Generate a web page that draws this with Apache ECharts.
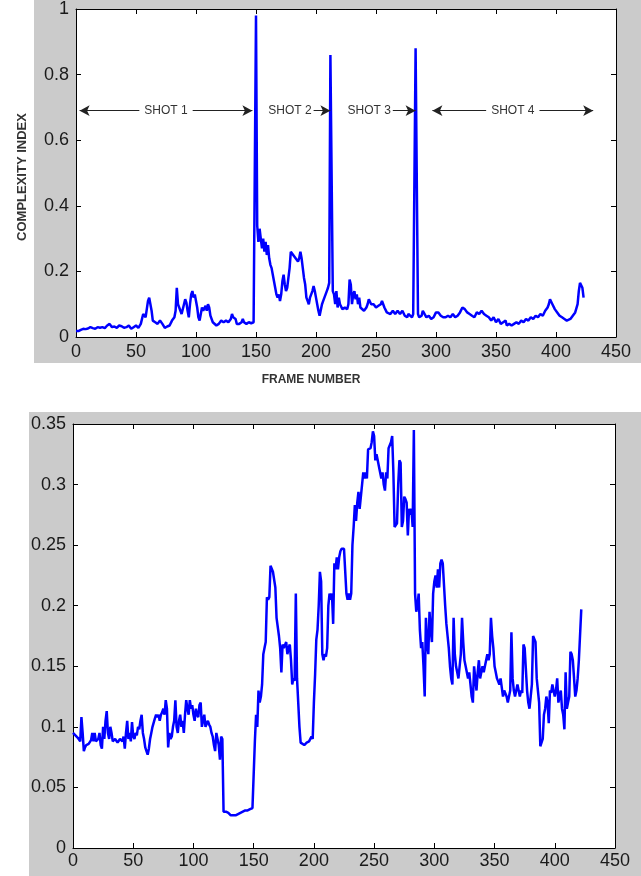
<!DOCTYPE html>
<html><head><meta charset="utf-8">
<script src="https://cdn.jsdelivr.net/npm/echarts@6/dist/echarts.min.js"></script>
<style>html,body{margin:0;padding:0;background:#fff}#c{width:641px;height:876px}</style>
</head><body><div id="c"></div>
<script>
// ---------- top chart: complexity index per frame ----------
const topFrames = [0,2,4,6,8,10,12,14,16,18,20,22,24,26,28,30,32,34,36,38,40,42,44,46,48,50,52,54,56,58,60,61,62,63,64,66,68,70,72,74,76,78,80,82,83,84,85,86,88,90,91,92,93,94,95,96,97,98,99,100,101,102,103,104,105,106,107,108,109,110,111,112,113,114,115,117,119,121,123,125,127,129,130,131,133,134,136,138,139,140,142,144,146,148,149,150,151,152,153,154,155,156,157,158,159,160,161,162,163,164,165,166,167,168,169,170,171,172,173,174,175,176,177,178,179,180,181,182,183,184,185,186,187,188,189,190,191,192,193,194,195,196,197,198,199,200,201,202,203,204,205,206,207,208,209,210,211,212,213,214,215,216,217,218,219,220,221,222,224,226,227,228,229,230,231,232,233,234,235,236,237,238,240,242,243,244,245,246,248,250,252,254,255,256,257,258,259,260,262,264,265,266,268,270,272,274,276,277,278,280,281,282,283,284,285,286,288,289,290,292,294,296,298,300,302,304,306,308,310,312,314,316,318,320,322,324,326,328,330,332,334,336,338,340,342,344,346,348,350,352,354,356,358,359,361,363,365,367,369,371,373,375,377,379,381,383,385,387,389,391,393,394,395,396,397,399,401,403,405,407,409,410,412,414,416,418,419,420,421,422,423];
const topValues = [0.018,0.018,0.022,0.025,0.024,0.026,0.03,0.027,0.025,0.03,0.028,0.03,0.027,0.035,0.04,0.03,0.032,0.028,0.035,0.033,0.028,0.03,0.035,0.025,0.03,0.035,0.028,0.04,0.07,0.06,0.11,0.12,0.115,0.08,0.05,0.045,0.04,0.05,0.04,0.028,0.032,0.035,0.05,0.06,0.08,0.15,0.1,0.09,0.07,0.1,0.115,0.105,0.08,0.06,0.1,0.13,0.14,0.12,0.13,0.11,0.09,0.06,0.05,0.07,0.09,0.08,0.075,0.095,0.08,0.1,0.09,0.065,0.06,0.045,0.04,0.035,0.04,0.05,0.045,0.05,0.045,0.055,0.07,0.06,0.055,0.04,0.04,0.045,0.055,0.045,0.04,0.045,0.042,0.045,0.04,0.98,0.34,0.29,0.33,0.3,0.27,0.3,0.26,0.29,0.25,0.28,0.24,0.22,0.21,0.19,0.17,0.15,0.13,0.12,0.13,0.11,0.13,0.17,0.19,0.16,0.14,0.15,0.18,0.21,0.26,0.26,0.25,0.25,0.24,0.24,0.23,0.24,0.26,0.24,0.21,0.18,0.16,0.12,0.11,0.1,0.12,0.13,0.14,0.155,0.14,0.12,0.1,0.08,0.065,0.07,0.1,0.11,0.12,0.13,0.14,0.15,0.165,0.86,0.86,0.14,0.13,0.1,0.14,0.09,0.12,0.1,0.095,0.085,0.09,0.085,0.1,0.175,0.16,0.1,0.13,0.14,0.115,0.13,0.1,0.12,0.09,0.095,0.08,0.09,0.1,0.115,0.11,0.1,0.1,0.09,0.095,0.1,0.11,0.11,0.09,0.085,0.075,0.08,0.07,0.08,0.075,0.07,0.08,0.07,0.08,0.065,0.06,0.07,0.065,0.06,0.07,0.065,0.88,0.88,0.07,0.06,0.065,0.08,0.075,0.06,0.065,0.055,0.06,0.075,0.075,0.065,0.06,0.06,0.065,0.06,0.07,0.06,0.065,0.075,0.09,0.085,0.075,0.07,0.065,0.06,0.075,0.07,0.08,0.07,0.065,0.06,0.05,0.06,0.045,0.055,0.04,0.045,0.05,0.035,0.04,0.035,0.04,0.045,0.04,0.05,0.045,0.055,0.05,0.06,0.055,0.065,0.06,0.07,0.065,0.08,0.09,0.1,0.115,0.11,0.1,0.085,0.075,0.065,0.06,0.055,0.05,0.045,0.055,0.065,0.075,0.1,0.14,0.165,0.16,0.15,0.12];

// shot annotations (frame ranges of the arrows, in data units)
const shotLabels = ['SHOT 1', 'SHOT 2', 'SHOT 3', 'SHOT 4'];
const shotFrom = [3, 198, 264, 297];
const shotTo = [147, 212, 283, 431];
const shotBothEnds = [true, false, false, true];
const shotLevel = 0.69;

// ---------- bottom chart ----------
const bottomFrames = [0,2,4,6,7,8,9,10,11,13,15,16,17,18,19,21,22,23,24,25,26,27,28,29,30,31,32,33,35,37,39,41,42,43,44,45,46,47,48,49,50,51,52,53,54,55,56,57,58,59,60,61,62,63,64,65,66,67,68,69,70,71,72,73,74,75,76,77,78,79,80,81,82,83,84,85,86,87,88,89,90,91,92,93,94,95,96,97,98,99,100,101,102,103,104,105,106,107,108,109,110,111,112,113,114,115,116,117,118,119,120,121,122,123,124,125,127,129,131,133,135,137,139,141,143,145,147,149,150,151,152,153,154,155,156,157,158,159,160,161,162,163,164,165,166,167,168,169,170,171,172,173,174,175,176,177,178,179,180,181,182,183,184,185,186,187,188,189,190,192,194,196,198,199,200,201,202,203,204,205,206,207,208,209,210,211,212,213,214,215,216,217,218,219,220,221,222,223,224,225,226,227,228,229,230,231,232,233,234,235,236,237,238,239,240,241,242,243,244,245,246,247,248,249,250,251,252,253,254,255,256,257,258,259,260,261,262,263,264,265,266,267,268,269,270,271,272,273,274,275,276,277,278,279,280,281,282,283,284,285,286,287,288,289,290,291,292,293,294,295,296,297,298,299,300,301,302,303,304,305,306,307,308,309,310,311,312,313,314,315,316,317,318,319,320,321,322,323,324,325,326,327,328,329,330,331,332,333,334,335,336,337,338,339,340,341,342,343,344,345,346,347,348,349,350,351,352,353,354,355,356,357,358,359,360,361,362,363,364,365,366,367,368,369,370,371,372,373,374,375,376,377,378,379,380,381,382,383,384,385,386,387,388,389,390,391,392,393,394,395,396,397,398,399,400,401,402,403,404,405,406,407,408,409,410,411,412,413,414,415,416,417,418,419,420,421,422];
const bottomValues = [0.095,0.093,0.091,0.088,0.108,0.095,0.08,0.083,0.085,0.086,0.089,0.095,0.088,0.095,0.088,0.09,0.095,0.085,0.082,0.1,0.09,0.105,0.113,0.095,0.09,0.1,0.095,0.088,0.09,0.087,0.09,0.088,0.092,0.082,0.095,0.105,0.09,0.095,0.088,0.104,0.092,0.09,0.095,0.093,0.1,0.098,0.105,0.11,0.095,0.09,0.083,0.08,0.077,0.082,0.09,0.095,0.1,0.1,0.107,0.11,0.108,0.11,0.105,0.11,0.112,0.115,0.11,0.122,0.115,0.083,0.095,0.09,0.092,0.1,0.105,0.122,0.1,0.095,0.105,0.11,0.1,0.105,0.095,0.11,0.122,0.115,0.11,0.122,0.115,0.118,0.11,0.105,0.115,0.11,0.108,0.118,0.12,0.1,0.105,0.11,0.1,0.1,0.105,0.102,0.1,0.095,0.092,0.085,0.08,0.095,0.09,0.085,0.073,0.092,0.09,0.03,0.03,0.029,0.027,0.027,0.027,0.028,0.029,0.03,0.031,0.031,0.032,0.033,0.033,0.088,0.11,0.1,0.13,0.12,0.125,0.135,0.16,0.165,0.17,0.207,0.205,0.207,0.233,0.233,0.228,0.228,0.215,0.19,0.19,0.175,0.165,0.145,0.168,0.165,0.165,0.17,0.16,0.165,0.168,0.155,0.135,0.14,0.138,0.21,0.14,0.12,0.1,0.087,0.088,0.085,0.087,0.088,0.092,0.09,0.12,0.143,0.172,0.18,0.2,0.228,0.22,0.16,0.155,0.16,0.158,0.165,0.2,0.21,0.205,0.21,0.185,0.235,0.23,0.24,0.23,0.24,0.245,0.247,0.247,0.247,0.247,0.21,0.205,0.21,0.205,0.21,0.25,0.265,0.283,0.27,0.285,0.294,0.28,0.29,0.3,0.31,0.305,0.31,0.305,0.329,0.328,0.33,0.335,0.344,0.34,0.32,0.325,0.32,0.315,0.31,0.305,0.31,0.3,0.295,0.31,0.305,0.33,0.33,0.335,0.34,0.31,0.265,0.265,0.268,0.3,0.32,0.318,0.265,0.27,0.29,0.288,0.285,0.258,0.28,0.275,0.28,0.265,0.345,0.21,0.195,0.2,0.21,0.18,0.165,0.17,0.15,0.125,0.19,0.17,0.16,0.195,0.18,0.17,0.21,0.22,0.225,0.215,0.23,0.215,0.235,0.238,0.235,0.235,0.2,0.185,0.175,0.165,0.15,0.14,0.135,0.19,0.16,0.15,0.145,0.14,0.15,0.16,0.19,0.17,0.155,0.15,0.15,0.14,0.145,0.135,0.125,0.12,0.15,0.14,0.13,0.145,0.155,0.14,0.145,0.15,0.145,0.15,0.155,0.16,0.155,0.16,0.19,0.175,0.165,0.15,0.145,0.14,0.14,0.135,0.14,0.14,0.125,0.13,0.13,0.125,0.12,0.125,0.13,0.178,0.14,0.13,0.125,0.125,0.135,0.13,0.125,0.13,0.128,0.168,0.165,0.165,0.13,0.12,0.115,0.125,0.135,0.175,0.175,0.17,0.14,0.13,0.12,0.084,0.085,0.09,0.11,0.115,0.125,0.12,0.103,0.13,0.128,0.135,0.13,0.125,0.13,0.14,0.12,0.125,0.13,0.115,0.11,0.098,0.145,0.115,0.12,0.125,0.162,0.16,0.155,0.14,0.125,0.13,0.14,0.155,0.155,0.197];

const tickFont = "'Liberation Sans Narrow','Arial Narrow','Liberation Sans',Arial,sans-serif";
const labelColor = '#1a1a1a';

function xAx(grid, pos, showLabel, margin, extra) {
  return Object.assign({
    type: 'value', gridIndex: grid, position: pos, min: 0, max: 450, interval: 50,
    axisLine: { show: true, onZero: false, lineStyle: { color: '#000', width: 1 } },
    axisTick: { show: true, inside: true, length: 5, lineStyle: { color: '#000' } },
    axisLabel: { show: showLabel, margin: margin, fontFamily: tickFont, fontSize: 18, color: labelColor },
    splitLine: { show: false }
  }, extra || {});
}
function yAx(grid, pos, max, interval, showLabel, extra) {
  return Object.assign({
    type: 'value', gridIndex: grid, position: pos, min: 0, max: max, interval: interval,
    axisLine: { show: true, onZero: false, lineStyle: { color: '#000', width: 1 } },
    axisTick: { show: true, inside: true, length: 5, lineStyle: { color: '#000' } },
    axisLabel: { show: showLabel, margin: 7, fontFamily: tickFont, fontSize: 18, color: labelColor },
    splitLine: { show: false }
  }, extra || {});
}

const annFont = 'Liberation Sans, Arial, sans-serif';
const shotLines = shotLabels.map((lab, i) => {
  if (shotBothEnds[i]) {
    return [
      { coord: [shotFrom[i], shotLevel], symbol: 'arrow',
        label: { formatter: lab, position: 'middle', distance: 0, verticalAlign: 'middle', align: 'center',
          backgroundColor: '#fff', padding: [2, 5] } },
      { coord: [shotTo[i], shotLevel], symbol: 'arrow' }
    ];
  }
  return [
    { coord: [shotFrom[i], shotLevel], symbol: 'none',
      label: { formatter: lab, position: 'start', distance: 2 } },
    { coord: [shotTo[i], shotLevel], symbol: 'arrow' }
  ];
});

const chart = echarts.init(document.getElementById('c'), null, { renderer: 'canvas' });
chart.setOption({
  animation: false,
  backgroundColor: '#fff',
  graphic: [
    { type: 'rect', z: -100, shape: { x: 34, y: 0, width: 607, height: 363 }, style: { fill: '#cbcbcb' } },
    { type: 'rect', z: -100, shape: { x: 29, y: 412, width: 612, height: 464 }, style: { fill: '#cbcbcb' } }
  ],
  grid: [
    { left: 76, top: 5, width: 540, height: 332, show: true, backgroundColor: '#fff', borderWidth: 0 },
    { left: 73, top: 424, width: 542, height: 424, show: true, backgroundColor: '#fff', borderWidth: 0 }
  ],
  xAxis: [
    xAx(0, 'bottom', true, 6, {
      name: 'FRAME NUMBER', nameLocation: 'middle', nameGap: 37,
      nameTextStyle: { fontFamily: annFont, fontWeight: 'bold', fontSize: 12, color: '#333', padding: [0, 70, 0, 0] }
    }),
    xAx(0, 'top', false, 6),
    xAx(1, 'bottom', true, 4),
    xAx(1, 'top', false, 4)
  ],
  yAxis: [
    yAx(0, 'left', 1, 0.2, true, {
      name: 'COMPLEXITY INDEX', nameLocation: 'middle', nameGap: 47,
      nameTextStyle: { fontFamily: annFont, fontWeight: 'bold', fontSize: 13, color: '#333', padding: [0, 8, 0, 0] }
    }),
    yAx(0, 'right', 1, 0.2, false),
    yAx(1, 'left', 0.35, 0.05, true),
    yAx(1, 'right', 0.35, 0.05, false)
  ],
  series: [
    {
      type: 'line', xAxisIndex: 0, yAxisIndex: 0,
      data: topFrames.map((f, i) => [f, topValues[i]]),
      showSymbol: false, symbol: 'none',
      lineStyle: { color: '#0000ff', width: 2.5 },
      markLine: {
        silent: true, animation: false,
        symbolSize: [8, 10],
        lineStyle: { color: '#222', width: 1, type: 'solid' },
        label: { show: true, fontFamily: annFont, fontSize: 12, color: '#333' },
        data: shotLines
      }
    },
    {
      type: 'line', xAxisIndex: 2, yAxisIndex: 2,
      data: bottomFrames.map((f, i) => [f, bottomValues[i]]),
      showSymbol: false, symbol: 'none',
      lineStyle: { color: '#0000ff', width: 2.5 }
    }
  ]
});
</script>
</body></html>
